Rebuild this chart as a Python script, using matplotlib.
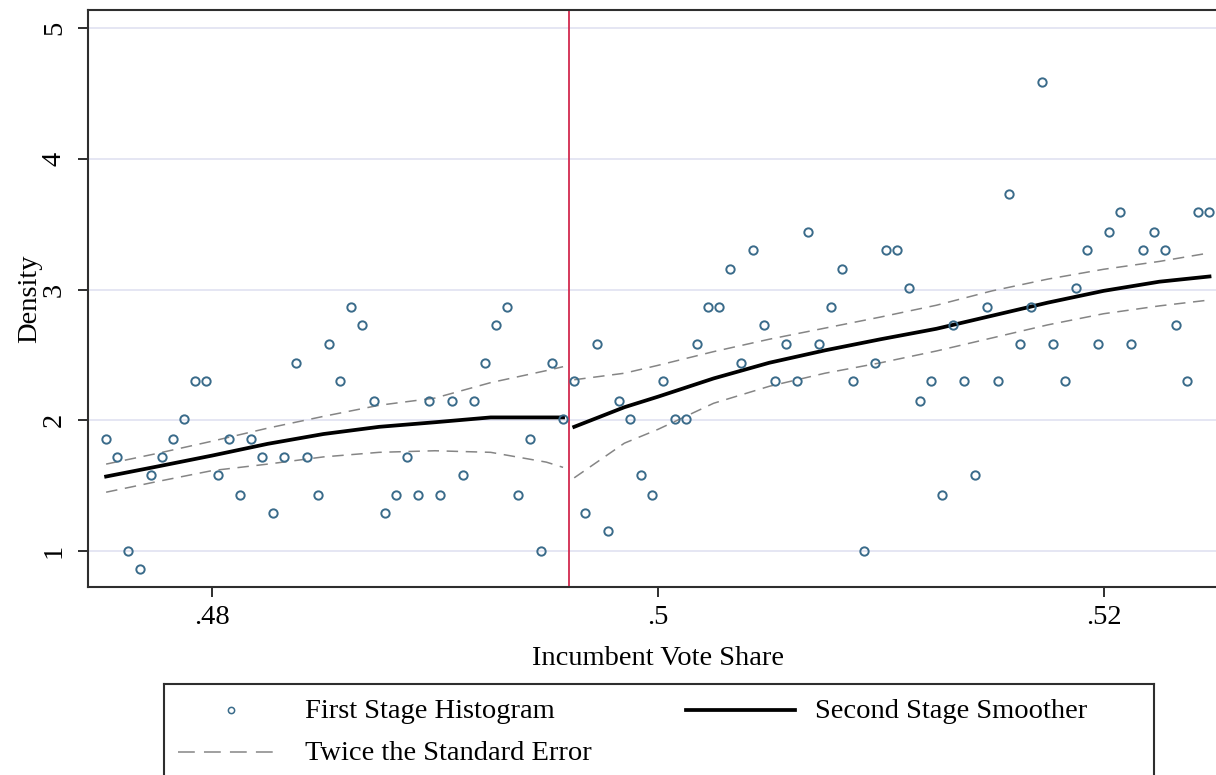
import matplotlib.pyplot as plt

# figure size in pixels
W, H = 1216, 775
DPI = 100

CUTOFF = 0.496

# first stage histogram: bin midpoints and densities
bin_mid = [0.47525, 0.47575, 0.47625, 0.47675, 0.47725, 0.47775, 0.47825, 0.47875, 0.47925, 0.47975,
           0.48025, 0.48075, 0.48125, 0.48175, 0.48225, 0.48275, 0.48325, 0.48375, 0.48425, 0.48475,
           0.48525, 0.48575, 0.48625, 0.48675, 0.48725, 0.48775, 0.48825, 0.48875, 0.48925, 0.48975,
           0.49025, 0.49075, 0.49125, 0.49175, 0.49225, 0.49275, 0.49325, 0.49375, 0.49425, 0.49475,
           0.49525, 0.49575,
           0.49625, 0.49675, 0.49725, 0.49775, 0.49825, 0.49875, 0.49925, 0.49975,
           0.50025, 0.50075, 0.50125, 0.50175, 0.50225, 0.50275, 0.50325, 0.50375, 0.50425, 0.50475,
           0.50525, 0.50575, 0.50625, 0.50675, 0.50725, 0.50775, 0.50825, 0.50875, 0.50925, 0.50975,
           0.51025, 0.51075, 0.51125, 0.51175, 0.51225, 0.51275, 0.51325, 0.51375, 0.51425, 0.51475,
           0.51525, 0.51575, 0.51625, 0.51675, 0.51725, 0.51775, 0.51825, 0.51875, 0.51925, 0.51975,
           0.52025, 0.52075, 0.52125, 0.52175, 0.52225, 0.52275, 0.52325, 0.52375, 0.52425, 0.52475]

density = [1.86, 1.72, 1.00, 0.86, 1.58, 1.72, 1.86, 2.01, 2.30, 2.30,
           1.58, 1.86, 1.43, 1.86, 1.72, 1.29, 1.72, 2.44, 1.72, 1.43,
           2.58, 2.30, 2.87, 2.73, 2.15, 1.29, 1.43, 1.72, 1.43, 2.15,
           1.43, 2.15, 1.58, 2.15, 2.44, 2.73, 2.87, 1.43, 1.86, 1.00,
           2.44, 2.01,
           2.30, 1.29, 2.58, 1.15, 2.15, 2.01, 1.58, 1.43,
           2.30, 2.01, 2.01, 2.58, 2.87, 2.87, 3.16, 2.44, 3.30, 2.73,
           2.30, 2.58, 2.30, 3.44, 2.58, 2.87, 3.16, 2.30, 1.00, 2.44,
           3.30, 3.30, 3.01, 2.15, 2.30, 1.43, 2.73, 2.30, 1.58, 2.87,
           2.30, 3.73, 2.58, 2.87, 4.59, 2.58, 2.30, 3.01, 3.30, 2.58,
           3.44, 3.59, 2.58, 3.30, 3.44, 3.30, 2.73, 2.30, 3.59, 3.59]

# second stage smoother, left of cutoff
left_x = [0.47525, 0.4775, 0.48, 0.4825, 0.485, 0.4875, 0.49, 0.4925, 0.495, 0.49575]
left_fit = [1.57, 1.645, 1.73, 1.82, 1.895, 1.95, 1.985, 2.022, 2.022, 2.022]
left_hi = [1.665, 1.745, 1.84, 1.94, 2.03, 2.115, 2.17, 2.288, 2.38, 2.41]
left_lo = [1.45, 1.53, 1.615, 1.665, 1.72, 1.755, 1.767, 1.755, 1.68, 1.64]

# right of cutoff
right_x = [0.49625, 0.4985, 0.5, 0.5025, 0.505, 0.5075, 0.51, 0.5125, 0.515, 0.5175, 0.52, 0.5225, 0.52475]
right_fit = [1.95, 2.10, 2.18, 2.32, 2.44, 2.535, 2.62, 2.70, 2.80, 2.90, 2.99, 3.06, 3.10]
right_hi = [2.31, 2.36, 2.42, 2.525, 2.62, 2.705, 2.79, 2.88, 2.99, 3.08, 3.155, 3.215, 3.28]
right_lo = [1.56, 1.825, 1.93, 2.13, 2.26, 2.36, 2.44, 2.53, 2.63, 2.73, 2.815, 2.875, 2.92]

x_ticks = [0.48, 0.50, 0.52]
x_labels = ['.48', '.5', '.52']
y_ticks = [1, 2, 3, 4, 5]
y_labels = ['1', '2', '3', '4', '5']

MARKER_COL = '#3a6b8a'
CI_COL = '#858585'
SPINE_COL = '#2e2e2e'
FS = 20.5
CI_STYLE = (0, (7.5, 5))

plt.rcParams['font.family'] = ['Liberation Serif', 'DejaVu Serif']

fig = plt.figure(figsize=(W / DPI, H / DPI), dpi=DPI)
fig.patch.set_facecolor('white')

# plot region runs a little past the right edge of the image
ax = fig.add_axes([88 / W, (H - 587) / H, (1228 - 88) / W, (587 - 10) / H])
ax.set_xlim(0.474437, 0.52558)
ax.set_ylim(0.725, 5.138)

for yv in y_ticks:
    ax.axhline(yv, color='#e5e6f3', lw=1.4, zorder=0)

ax.plot(bin_mid, density, 'o', ms=6, mfc='none', mec=MARKER_COL, mew=1.4, zorder=3)

ax.plot(left_x, left_hi, color=CI_COL, lw=1.1, ls=CI_STYLE, zorder=2)
ax.plot(left_x, left_lo, color=CI_COL, lw=1.1, ls=CI_STYLE, zorder=2)
ax.plot(right_x, right_hi, color=CI_COL, lw=1.1, ls=CI_STYLE, zorder=2)
ax.plot(right_x, right_lo, color=CI_COL, lw=1.1, ls=CI_STYLE, zorder=2)

ax.plot(left_x, left_fit, color='black', lw=2.7, zorder=2)
ax.plot(right_x, right_fit, color='black', lw=2.7, zorder=2)

ax.axvline(CUTOFF, color='#d22a4e', lw=1.3, zorder=2)

ax.set_xticks(x_ticks)
ax.set_xticklabels(x_labels)
ax.set_yticks(y_ticks)
ax.set_yticklabels(y_labels, rotation=90, va='center')
ax.tick_params(length=7.2, width=1.4, color=SPINE_COL, labelsize=FS, pad=6)
ax.tick_params(axis='y', pad=8)

for s in ax.spines.values():
    s.set_color(SPINE_COL)
    s.set_linewidth(1.5)

ax.set_xlabel('Incumbent Vote Share', fontsize=FS)
ax.xaxis.set_label_coords(0.5, -0.103)
ax.set_ylabel('Density', fontsize=FS)
ax.yaxis.set_label_coords(-0.040, 0.5)

# legend box drawn by hand, in pixel units, it runs off the bottom of the image
lax = fig.add_axes([164 / W, (H - 800) / H, (1154 - 164) / W, (800 - 684) / H])
lax.set_xlim(164, 1154)
lax.set_ylim(800, 684)
lax.set_xticks([])
lax.set_yticks([])
for s in lax.spines.values():
    s.set_color(SPINE_COL)
    s.set_linewidth(1.5)

lax.plot([231], [710], 'o', ms=4.5, mfc='none', mec=MARKER_COL, mew=1.1)
lax.plot([686, 795], [710, 710], color='black', lw=2.7)
lax.plot([178, 278], [752, 752], color=CI_COL, lw=1.1, ls=(0, (11, 6)))
lax.text(305, 718, 'First Stage Histogram', fontsize=FS, va='baseline')
lax.text(815, 718, 'Second Stage Smoother', fontsize=FS, va='baseline')
lax.text(305, 760, 'Twice the Standard Error', fontsize=FS, va='baseline')

fig.savefig('out.png', dpi=DPI)
